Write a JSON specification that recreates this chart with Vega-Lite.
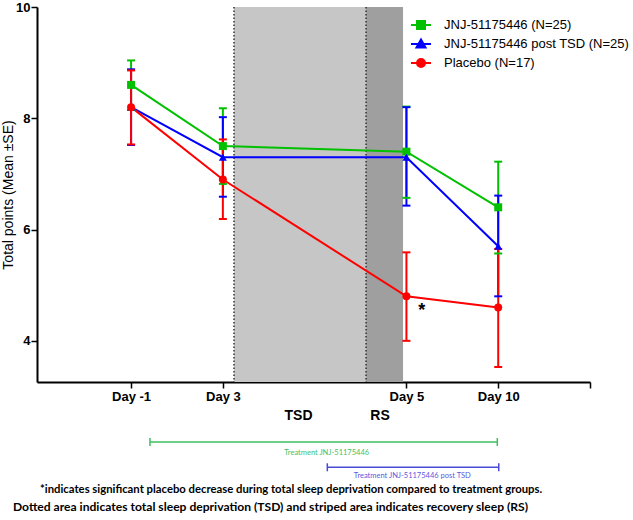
{
  "$schema": "https://vega.github.io/schema/vega-lite/v6.json",
  "width": 553,
  "height": 375,
  "autosize": "none",
  "padding": {"left": 37, "top": 7, "right": 43, "bottom": 138},
  "background": "white",
  "config": {"view": {"stroke": null}, "font": "Liberation Sans"},
  "datasets": {
    "obs": [
      {"day": "Day -1", "pos": 1, "series": "JNJ-51175446 (N=25)", "mean": 8.6, "lo": 8.15, "hi": 9.04},
      {"day": "Day 3", "pos": 2, "series": "JNJ-51175446 (N=25)", "mean": 7.5, "lo": 6.82, "hi": 8.18},
      {"day": "Day 5", "pos": 4, "series": "JNJ-51175446 (N=25)", "mean": 7.4, "lo": 6.57, "hi": 8.21},
      {"day": "Day 10", "pos": 5, "series": "JNJ-51175446 (N=25)", "mean": 6.4, "lo": 5.57, "hi": 7.22},
      {"day": "Day -1", "pos": 1, "series": "JNJ-51175446 post TSD (N=25)", "mean": 8.2, "lo": 7.52, "hi": 8.88},
      {"day": "Day 3", "pos": 2, "series": "JNJ-51175446 post TSD (N=25)", "mean": 7.3, "lo": 6.59, "hi": 8.02},
      {"day": "Day 5", "pos": 4, "series": "JNJ-51175446 post TSD (N=25)", "mean": 7.3, "lo": 6.43, "hi": 8.2},
      {"day": "Day 10", "pos": 5, "series": "JNJ-51175446 post TSD (N=25)", "mean": 5.7, "lo": 4.8, "hi": 6.61},
      {"day": "Day -1", "pos": 1, "series": "Placebo (N=17)", "mean": 8.2, "lo": 7.53, "hi": 8.86},
      {"day": "Day 3", "pos": 2, "series": "Placebo (N=17)", "mean": 6.9, "lo": 6.19, "hi": 7.62},
      {"day": "Day 5", "pos": 4, "series": "Placebo (N=17)", "mean": 4.8, "lo": 4.0, "hi": 5.59},
      {"day": "Day 10", "pos": 5, "series": "Placebo (N=17)", "mean": 4.6, "lo": 3.53, "hi": 5.65}
    ],
    "zones": [
      {"zone": "TSD", "start": 2.121, "end": 3.56},
      {"zone": "RS", "start": 3.56, "end": 3.963}
    ],
    "bounds": [{"b": 2.121}, {"b": 3.56}],
    "periods": [
      {"text": "TSD", "x": 2.824, "y": 2.64},
      {"text": "RS", "x": 3.712, "y": 2.64}
    ],
    "treat": [
      {"arm": "Treatment JNJ-51175446", "from": 1.206, "to": 4.99, "y": 2.182, "lx": 3.131, "ly": 1.99},
      {"arm": "Treatment JNJ-51175446 post TSD", "from": 3.138, "to": 5.006, "y": 1.727, "lx": 4.064, "ly": 1.571}
    ],
    "notes": [
      {"line": 1, "text": "*indicates significant placebo decrease during total sleep deprivation compared to treatment groups.", "x": 0.008, "y": 1.319},
      {"line": 2, "text": "Dotted area indicates total sleep deprivation (TSD) and striped area indicates recovery sleep (RS)", "x": -0.287, "y": 1.014}
    ],
    "star": [{"x": 4.166, "y": 4.54}]
  },
  "layer": [
    {
      "data": {"name": "zones"},
      "transform": [{"filter": {"field": "zone", "equal": "TSD"}}],
      "mark": {"type": "rect", "color": "#c6c6c6"},
      "encoding": {
        "x": {"field": "start", "type": "quantitative"},
        "x2": {"field": "end"},
        "y": {"datum": 10, "type": "quantitative"},
        "y2": {"datum": 3.26}
      }
    },
    {
      "data": {"name": "zones"},
      "transform": [{"filter": {"field": "zone", "equal": "RS"}}],
      "mark": {"type": "rect", "color": "#9f9f9f"},
      "encoding": {
        "x": {"field": "start", "type": "quantitative"},
        "x2": {"field": "end"},
        "y": {"datum": 10, "type": "quantitative"},
        "y2": {"datum": 3.26}
      }
    },
    {
      "data": {"name": "bounds"},
      "mark": {"type": "rule", "color": "#333333", "strokeWidth": 1.5, "strokeDash": [1.5, 2]},
      "encoding": {
        "x": {"field": "b", "type": "quantitative"}
      }
    },
    {
      "data": {"name": "obs"},
      "encoding": {
        "x": {
          "field": "pos", "type": "quantitative",
          "scale": {"domain": [-0.025, 6], "nice": false, "zero": false},
          "axis": {
            "values": [1, 2, 4, 5, 6],
            "labelExpr": "datum.value == 1 ? 'Day -1' : datum.value == 2 ? 'Day 3' : datum.value == 4 ? 'Day 5' : datum.value == 5 ? 'Day 10' : ''",
            "title": null, "grid": false,
            "domainColor": "black", "domainWidth": 2,
            "tickColor": "black", "tickWidth": 1.5, "tickSize": 6,
            "labelFont": "Liberation Sans", "labelFontSize": 13, "labelFontWeight": "bold", "labelColor": "black", "labelPadding": 2
          }
        },
        "y": {
          "field": "mean", "type": "quantitative",
          "scale": {"domain": [3.26, 10], "nice": false, "zero": false},
          "axis": {
            "values": [4, 6, 8, 10], "format": "d",
            "title": "Total points (Mean ±SE)", "grid": false,
            "domainColor": "black", "domainWidth": 2,
            "tickColor": "black", "tickWidth": 1.5, "tickSize": 6,
            "labelFont": "Liberation Sans", "labelFontSize": 13, "labelFontWeight": "bold", "labelColor": "black", "labelPadding": 1,
            "titleFont": "Liberation Sans", "titleFontSize": 14, "titleFontWeight": "normal", "titleColor": "black", "titlePadding": 0
          }
        },
        "color": {
          "field": "series", "type": "nominal",
          "scale": {"range": ["#00c000", "#0000ff", "#ff0000"]},
          "legend": null
        }
      },
      "layer": [
        {"mark": {"type": "line", "strokeWidth": 2}},
        {
          "mark": {"type": "rule", "strokeWidth": 2},
          "encoding": {
            "y": {"field": "lo", "type": "quantitative"},
            "y2": {"field": "hi"}
          }
        },
        {
          "mark": {"type": "point", "shape": "stroke", "size": 64, "strokeWidth": 2, "opacity": 1},
          "encoding": {"y": {"field": "lo", "type": "quantitative"}}
        },
        {
          "mark": {"type": "point", "shape": "stroke", "size": 64, "strokeWidth": 2, "opacity": 1},
          "encoding": {"y": {"field": "hi", "type": "quantitative"}}
        },
        {
          "transform": [{"filter": {"field": "series", "equal": "JNJ-51175446 (N=25)"}}],
          "mark": {"type": "point", "shape": "square", "filled": true, "size": 64, "opacity": 1}
        },
        {
          "transform": [{"filter": {"field": "series", "equal": "JNJ-51175446 post TSD (N=25)"}}],
          "mark": {"type": "point", "shape": "triangle-up", "filled": true, "size": 64, "opacity": 1}
        },
        {
          "transform": [{"filter": {"field": "series", "equal": "Placebo (N=17)"}}],
          "mark": {"type": "point", "shape": "circle", "filled": true, "size": 64, "opacity": 1}
        }
      ]
    },
    {
      "data": {"name": "obs"},
      "transform": [{"filter": "false"}],
      "mark": {"type": "point", "filled": true, "strokeWidth": 2, "opacity": 1},
      "encoding": {
        "fill": {
          "field": "series", "type": "nominal",
          "scale": {"domain": ["JNJ-51175446 (N=25)", "JNJ-51175446 post TSD (N=25)", "Placebo (N=17)"], "range": ["#00c000", "#0000ff", "#ff0000"]},
          "legend": {
            "orient": "none", "legendX": 373, "legendY": 7, "title": null, "padding": 0,
            "symbolSize": 400, "symbolStrokeWidth": 2, "labelFont": "Liberation Sans", "labelFontSize": 13, "labelColor": "black",
            "labelOffset": 12, "rowPadding": 0, "labelLimit": 300
          }
        },
        "stroke": {
          "field": "series", "type": "nominal",
          "scale": {"domain": ["JNJ-51175446 (N=25)", "JNJ-51175446 post TSD (N=25)", "Placebo (N=17)"], "range": ["#00c000", "#0000ff", "#ff0000"]},
          "legend": {
            "orient": "none", "legendX": 373, "legendY": 7, "title": null, "padding": 0,
            "symbolSize": 400, "symbolStrokeWidth": 2, "labelFont": "Liberation Sans", "labelFontSize": 13, "labelColor": "black",
            "labelOffset": 12, "rowPadding": 0, "labelLimit": 300
          }
        },
        "shape": {
          "field": "series", "type": "nominal",
          "scale": {
            "domain": ["JNJ-51175446 (N=25)", "JNJ-51175446 post TSD (N=25)", "Placebo (N=17)"],
            "range": ["M-1,0H1M-0.4,-0.4H0.4V0.4H-0.4Z", "M-1,0H1M0,-0.45L0.45,0.35H-0.45Z", "M-1,0H1M0.4,0A0.4,0.4,0,1,1,-0.4,0A0.4,0.4,0,1,1,0.4,0Z"]
          },
          "legend": {
            "orient": "none", "legendX": 373, "legendY": 7, "title": null, "padding": 0,
            "symbolSize": 400, "symbolStrokeWidth": 2, "labelFont": "Liberation Sans", "labelFontSize": 13, "labelColor": "black",
            "labelOffset": 12, "rowPadding": 0, "labelLimit": 300
          }
        }
      }
    },
    {
      "data": {"name": "star"},
      "mark": {"type": "text", "text": "*", "fontSize": 18, "fontWeight": "bold", "color": "black", "baseline": "middle", "align": "center"},
      "encoding": {
        "x": {"field": "x", "type": "quantitative"},
        "y": {"field": "y", "type": "quantitative"}
      }
    },
    {
      "data": {"name": "periods"},
      "mark": {"type": "text", "fontSize": 14, "fontWeight": "bold", "color": "black", "baseline": "middle", "align": "center", "clip": false},
      "encoding": {
        "x": {"field": "x", "type": "quantitative"},
        "y": {"field": "y", "type": "quantitative"},
        "text": {"field": "text"}
      }
    },
    {
      "data": {"name": "treat"},
      "transform": [{"filter": {"field": "arm", "equal": "Treatment JNJ-51175446"}}],
      "layer": [
        {
          "mark": {"type": "rule", "color": "#3fbf5f", "strokeWidth": 1.5, "clip": false},
          "encoding": {
            "x": {"field": "from", "type": "quantitative"},
            "x2": {"field": "to"},
            "y": {"field": "y", "type": "quantitative"}
          }
        },
        {
          "mark": {"type": "point", "shape": "stroke", "angle": 90, "size": 64, "strokeWidth": 1.5, "color": "#3fbf5f", "opacity": 1, "clip": false},
          "encoding": {
            "x": {"field": "from", "type": "quantitative"},
            "y": {"field": "y", "type": "quantitative"}
          }
        },
        {
          "mark": {"type": "point", "shape": "stroke", "angle": 90, "size": 64, "strokeWidth": 1.5, "color": "#3fbf5f", "opacity": 1, "clip": false},
          "encoding": {
            "x": {"field": "to", "type": "quantitative"},
            "y": {"field": "y", "type": "quantitative"}
          }
        },
        {
          "mark": {"type": "text", "font": "Lato", "fontSize": 7.5, "color": "#3fbf5f", "baseline": "middle", "align": "center", "clip": false},
          "encoding": {
            "x": {"field": "lx", "type": "quantitative"},
            "y": {"field": "ly", "type": "quantitative"},
            "text": {"field": "arm"}
          }
        }
      ]
    },
    {
      "data": {"name": "treat"},
      "transform": [{"filter": {"field": "arm", "equal": "Treatment JNJ-51175446 post TSD"}}],
      "layer": [
        {
          "mark": {"type": "rule", "color": "#4a4ad8", "strokeWidth": 1.5, "clip": false},
          "encoding": {
            "x": {"field": "from", "type": "quantitative"},
            "x2": {"field": "to"},
            "y": {"field": "y", "type": "quantitative"}
          }
        },
        {
          "mark": {"type": "point", "shape": "stroke", "angle": 90, "size": 64, "strokeWidth": 1.5, "color": "#4a4ad8", "opacity": 1, "clip": false},
          "encoding": {
            "x": {"field": "from", "type": "quantitative"},
            "y": {"field": "y", "type": "quantitative"}
          }
        },
        {
          "mark": {"type": "point", "shape": "stroke", "angle": 90, "size": 64, "strokeWidth": 1.5, "color": "#4a4ad8", "opacity": 1, "clip": false},
          "encoding": {
            "x": {"field": "to", "type": "quantitative"},
            "y": {"field": "y", "type": "quantitative"}
          }
        },
        {
          "mark": {"type": "text", "font": "Lato", "fontSize": 7.5, "color": "#5a5ae0", "baseline": "middle", "align": "center", "clip": false},
          "encoding": {
            "x": {"field": "lx", "type": "quantitative"},
            "y": {"field": "ly", "type": "quantitative"},
            "text": {"field": "arm"}
          }
        }
      ]
    },
    {
      "data": {"name": "notes"},
      "transform": [{"filter": "datum.line == 1"}],
      "mark": {"type": "text", "font": "Lato", "fontSize": 11.3, "fontWeight": "bold", "color": "black", "baseline": "middle", "align": "left", "clip": false},
      "encoding": {
        "x": {"field": "x", "type": "quantitative"},
        "y": {"field": "y", "type": "quantitative"},
        "text": {"field": "text"}
      }
    },
    {
      "data": {"name": "notes"},
      "transform": [{"filter": "datum.line == 2"}],
      "mark": {"type": "text", "font": "Lato", "fontSize": 12.1, "fontWeight": "bold", "color": "black", "baseline": "middle", "align": "left", "clip": false},
      "encoding": {
        "x": {"field": "x", "type": "quantitative"},
        "y": {"field": "y", "type": "quantitative"},
        "text": {"field": "text"}
      }
    }
  ]
}
